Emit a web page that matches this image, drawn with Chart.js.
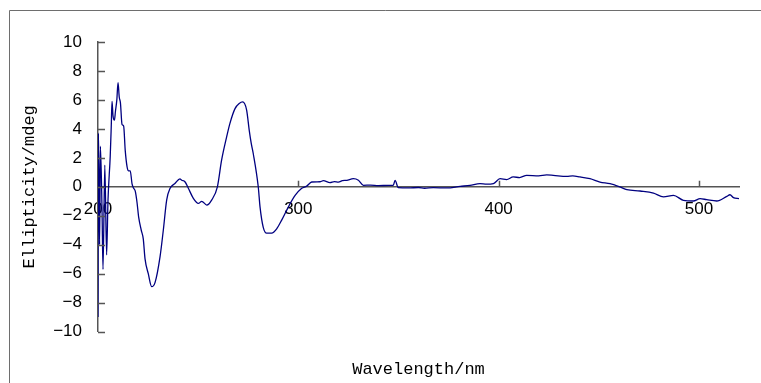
<!DOCTYPE html>
<html>
<head>
<meta charset="utf-8">
<script src="https://cdn.jsdelivr.net/npm/chart.js@4"></script>
<style>
  html, body { margin: 0; padding: 0; background: #fff; }
  #wrap { width: 761px; height: 383px; }
</style>
</head>
<body>
<div id="wrap"><canvas id="cdChart"></canvas></div>
<script>
// CD spectrum
const wavelength = [
  200.0, 200.05, 200.2, 200.5, 200.8, 201.2, 202.0, 202.5, 203.4, 204.3,
  205.0, 206.1, 206.6, 207.0, 207.5, 208.2, 208.7, 209.4, 210.0, 210.6,
  211.2, 212.0, 212.8, 213.6, 214.5, 215.3, 216.1, 217.0, 217.8, 218.6,
  219.5, 220.3, 221.6, 222.6, 223.5, 225.1, 226.8, 228.5, 231.0, 232.6,
  234.3, 236.0, 238.4, 240.9, 241.8, 243.4, 245.1, 247.6, 250.1, 251.8,
  254.3, 256.8, 259.6, 261.7, 264.3, 265.9, 268.4, 270.5, 272.2, 274.2,
  275.5, 276.5, 277.5, 280.0, 280.9, 282.5, 284.2, 286.7, 289.2, 291.7,
  295.0, 298.4, 301.7, 304.2, 306.7, 310.8, 312.5, 315.8, 318.0, 320.0,
  322.0, 324.2, 327.5, 330.0, 332.5, 336.0, 340.0, 345.0, 347.4, 348.3,
  349.9, 355.0, 360.0, 363.0, 367.4, 374.1, 380.8, 385.7, 390.7, 394.0,
  397.4, 400.7, 404.0, 407.3, 410.5, 414.0, 420.0, 424.0, 427.3, 434.0,
  437.0, 440.6, 445.6, 450.6, 455.6, 460.6, 464.0, 470.6, 477.3, 482.3,
  487.3, 492.2, 497.2, 500.6, 503.9, 508.9, 513.9, 515.5, 517.2, 520.0
];
const ellipticity = [
  -9.0, -6.7, 3.7, 0.5, -4.0, 2.8, -1.5, -5.7, 1.5, -4.7,
  -0.9, 2.1, 4.1, 5.9, 4.9, 4.6, 5.2, 6.0, 7.2, 6.2,
  5.8, 4.3, 4.2, 2.5, 1.4, 1.1, 1.1, 0.2, -0.1, -0.3,
  -1.1, -2.1, -3.0, -3.6, -5.0, -6.0, -6.9, -6.6, -4.8, -3.0,
  -0.9, -0.1, 0.23, 0.55, 0.45, 0.35, -0.1, -0.8, -1.15, -1.0,
  -1.26, -0.9, 0.0, 1.84, 3.5, 4.4, 5.4, 5.75, 5.86, 5.3,
  3.9, 3.0, 2.3, 0.0, -1.4, -2.8, -3.2, -3.2, -2.9, -2.3,
  -1.4, -0.6, -0.1, 0.05, 0.33, 0.35, 0.42, 0.29, 0.36, 0.32,
  0.42, 0.45, 0.56, 0.45, 0.1, 0.12, 0.08, 0.1, 0.1, 0.45,
  -0.06, -0.08, -0.05, -0.1, -0.06, -0.08, 0.03, 0.1, 0.22, 0.18,
  0.22, 0.56, 0.5, 0.68, 0.64, 0.79, 0.76, 0.82, 0.79, 0.72,
  0.75, 0.68, 0.56, 0.33, 0.22, -0.01, -0.2, -0.29, -0.43, -0.7,
  -0.59, -0.93, -0.98, -0.82, -0.89, -0.98, -0.66, -0.55, -0.75, -0.82
];
const xTicks = [200, 300, 400, 500];
const yTicks = [-10, -8, -6, -4, -2, 0, 2, 4, 6, 8, 10];

const points = wavelength.map((w, i) => ({ x: w, y: ellipticity[i] }));
const axisColor = '#555';

// outer frame + inward tick marks like the original
const framePlugin = {
  id: 'framePlugin',
  beforeDraw(chart) {
    const ctx = chart.ctx;
    ctx.save();
    ctx.strokeStyle = '#6e6e6e';
    ctx.lineWidth = 1;
    ctx.beginPath();
    ctx.moveTo(9.5, 383);
    ctx.lineTo(9.5, 10.5);
    ctx.lineTo(761, 10.5);
    ctx.stroke();
    ctx.restore();
  },
  afterDraw(chart) {
    const { ctx, scales: { x, y } } = chart;
    const y0 = y.getPixelForValue(0);
    ctx.save();
    ctx.strokeStyle = axisColor;
    ctx.lineWidth = 1.5;
    ctx.beginPath();
    xTicks.forEach(v => {
      if (v === x.min) return;
      const px = Math.round(x.getPixelForValue(v)) + 0.5;
      ctx.moveTo(px, y0);
      ctx.lineTo(px, y0 - 6);
    });
    yTicks.forEach(v => {
      const py = Math.round(y.getPixelForValue(v)) + 0.5;
      ctx.moveTo(x.left, py);
      ctx.lineTo(x.left + 7, py);
    });
    ctx.stroke();
    ctx.restore();
  }
};

new Chart(document.getElementById('cdChart'), {
  type: 'scatter',
  data: {
    datasets: [{
      data: points,
      showLine: true,
      borderColor: '#000080',
      borderWidth: 1.3,
      pointRadius: 0,
      cubicInterpolationMode: 'monotone'
    }]
  },
  options: {
    responsive: true,
    maintainAspectRatio: false,
    animation: false,
    layout: { padding: { left: 15, top: 42, right: 22, bottom: 0 } },
    plugins: {
      legend: { display: false },
      tooltip: { enabled: false },
      title: {
        display: true,
        position: 'bottom',
        fullSize: false,
        text: 'Wavelength/nm',
        color: '#000',
        font: { family: 'Liberation Mono', size: 17, weight: 'normal' },
        padding: { top: 28, bottom: 3 }
      }
    },
    scales: {
      x: {
        type: 'linear',
        position: { y: 0 },
        min: 200,
        max: 520,
        afterBuildTicks: s => { s.ticks = xTicks.map(v => ({ value: v })); },
        grid: { display: true, drawOnChartArea: false, drawTicks: false },
        border: { display: true, color: axisColor, width: 1.5 },
        ticks: {
          padding: 12,
          color: '#000',
          font: { family: 'Liberation Sans', size: 17 }
        }
      },
      y: {
        type: 'linear',
        position: 'left',
        min: -10,
        max: 10,
        afterBuildTicks: s => { s.ticks = yTicks.map(v => ({ value: v })); },
        afterFit: s => { s.width = 83; },
        grid: { display: true, drawOnChartArea: false, drawTicks: false },
        border: { display: true, color: axisColor, width: 1.5 },
        title: {
          display: true,
          text: 'Ellipticity/mdeg',
          color: '#000',
          font: { family: 'Liberation Mono', size: 17, weight: 'normal' },
          padding: { top: 4, bottom: 4 }
        },
        ticks: {
          padding: 16,
          color: '#000',
          font: { family: 'Liberation Sans', size: 17 },
          callback: v => (v < 0 ? '\u2212' + Math.abs(v) : String(v))
        }
      }
    }
  },
  plugins: [framePlugin]
});
</script>
</body>
</html>
